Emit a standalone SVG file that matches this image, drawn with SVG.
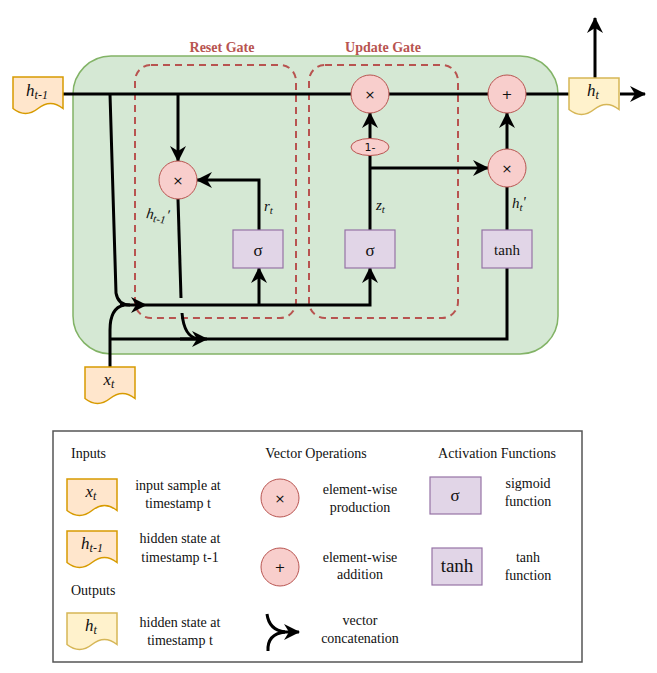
<svg xmlns="http://www.w3.org/2000/svg" width="657" height="673" viewBox="0 0 657 673" font-family="'Liberation Serif', 'DejaVu Serif', serif">
<style>
text{font-family:'Liberation Serif','DejaVu Serif',serif;fill:#111}
.ln{fill:none;stroke:#000;stroke-width:3}
.ar{marker-end:url(#arr)}
.op{fill:#f8cecc;stroke:#b85450;stroke-width:1}
.fn{fill:#e1d5e7;stroke:#9673a6;stroke-width:1.2}
.in{fill:#ffe6cc;stroke:#d79b00;stroke-width:1.5}
.out{fill:#fff2cc;stroke:#d6b656;stroke-width:1.5}
.gate{fill:none;stroke:#b85450;stroke-width:2;stroke-dasharray:7 5}
.gl{font-weight:bold;font-size:14px;fill:#b85450}
.sym{font-family:'DejaVu Sans',sans-serif;font-size:13px;text-anchor:middle}
.it{font-style:italic}
.lg{font-size:14px}
.c{text-anchor:middle}
</style>
<defs>
<marker id="arr" viewBox="0 0 16 16" refX="15" refY="8" markerWidth="16" markerHeight="16" markerUnits="userSpaceOnUse" orient="auto">
<path d="M0,0 L16,8 L0,16 L5,8 Z" fill="#000"/>
</marker>
<path id="doc" d="M0,0 H50 V31.5 Q37.5,21.5 25,31.5 Q12.5,41.5 0,31.5 Z"/>
</defs>

<g id="cell">
<rect x="73" y="56" width="485" height="298" rx="38" fill="#d5e8d4" stroke="#82b366" stroke-width="1.5"/>
</g>
<g id="reset-gate">
<rect class="gate" x="135" y="65" width="161" height="253" rx="16"/>
<text class="gl c" x="222" y="52">Reset Gate</text>
</g>
<g id="update-gate">
<rect class="gate" x="309" y="65" width="149" height="253" rx="16"/>
<text class="gl c" x="383" y="52">Update Gate</text>
</g>

<g id="connectors">
<path class="ln" d="M63,94 H569"/>
<path class="ln" d="M110,94 L116,293 Q118,305 130,305"/>
<path class="ln" d="M110,367 V330 Q110,308 124,305"/>
<path class="ln ar" d="M120,305 H146"/>
<path class="ln ar" d="M146,305 H370 V268"/>
<path class="ln ar" d="M259,305 V268"/>
<path class="ln" d="M110,339 H507 V268"/>
<path class="ln ar" d="M180,339 H207"/>
<path class="ln" d="M178,199 L181,298"/>
<path class="ln" d="M182,313 Q184,337 198,339"/>
<path class="ln ar" d="M178,94 V161"/>
<path class="ln ar" d="M259,230 V180 H197"/>
<path class="ln" d="M370,230 V155"/>
<path class="ln ar" d="M370,168 H488"/>
<path class="ln ar" d="M370,139 V113"/>
<path class="ln" d="M507,230 V187"/>
<path class="ln ar" d="M507,149 V113"/>
<path class="ln ar" d="M620,94 H645"/>
<path class="ln ar" d="M595,78 V18"/>
</g>

<g id="mul-reset">
<circle class="op" cx="178" cy="180" r="19"/>
<text class="sym" x="178" y="185">×</text>
</g>
<g id="mul-update">
<circle class="op" cx="370" cy="94" r="19"/>
<text class="sym" x="370" y="99">×</text>
</g>
<g id="add">
<circle class="op" cx="507" cy="94" r="19"/>
<text class="sym" x="507" y="99">+</text>
</g>
<g id="one-minus">
<ellipse class="op" cx="370" cy="147" rx="19" ry="8.5"/>
<text class="sym" x="370" y="151" style="font-size:11px">1-</text>
</g>
<g id="mul-out">
<circle class="op" cx="507" cy="168" r="19"/>
<text class="sym" x="507" y="173">×</text>
</g>
<g id="sigma-reset">
<rect class="fn" x="233" y="230" width="50" height="38"/>
<text class="c" x="258" y="256" font-size="17">σ</text>
</g>
<g id="sigma-update">
<rect class="fn" x="345" y="230" width="50" height="38"/>
<text class="c" x="370" y="256" font-size="17">σ</text>
</g>
<g id="tanh">
<rect class="fn" x="482" y="230" width="50" height="38"/>
<text class="c" x="507" y="255" font-size="15">tanh</text>
</g>

<g id="labels">
<text class="it" x="264" y="211" font-size="15">r<tspan font-size="11" dy="3">t</tspan></text>
<text class="it" x="376" y="210" font-size="15">z<tspan font-size="11" dy="3">t</tspan></text>
<text class="it" x="512" y="208" font-size="15">h<tspan font-size="11" dy="3">t</tspan><tspan dy="-4">'</tspan></text>
<text class="it" x="146" y="220" font-size="15" transform="rotate(8 160 218)">h<tspan font-size="11" dy="3">t-1</tspan><tspan dy="-4">'</tspan></text>
</g>

<g id="h-prev">
<use href="#doc" class="in" x="13" y="77"/>
<text class="it c" x="37" y="96" font-size="17">h<tspan font-size="12" dy="3">t-1</tspan></text>
</g>
<g id="x-t">
<use href="#doc" class="in" x="85" y="367"/>
<text class="it c" x="109" y="385" font-size="17">x<tspan font-size="12" dy="3">t</tspan></text>
</g>
<g id="h-t">
<use href="#doc" class="out" x="569" y="78"/>
<text class="it c" x="593" y="96" font-size="17">h<tspan font-size="12" dy="3">t</tspan></text>
</g>

<g id="legend">
<rect x="53" y="431" width="529" height="231" fill="#fff" stroke="#555" stroke-width="1.5"/>
<text class="lg" x="71" y="458">Inputs</text>
<text class="lg c" x="316" y="458">Vector Operations</text>
<text class="lg c" x="497" y="458">Activation Functions</text>
<text class="lg" x="71" y="595">Outputs</text>

<use href="#doc" class="in" x="67" y="479"/>
<text class="it c" x="91" y="497" font-size="17">x<tspan font-size="12" dy="3">t</tspan></text>
<text class="lg c" x="178" y="490">input sample at</text>
<text class="lg c" x="178" y="508">timestamp t</text>

<use href="#doc" class="in" x="67" y="531"/>
<text class="it c" x="92" y="549" font-size="17">h<tspan font-size="12" dy="3">t-1</tspan></text>
<text class="lg c" x="180" y="543">hidden state at</text>
<text class="lg c" x="180" y="562">timestamp t-1</text>

<use href="#doc" class="out" x="67" y="613"/>
<text class="it c" x="91" y="631" font-size="17">h<tspan font-size="12" dy="3">t</tspan></text>
<text class="lg c" x="180" y="627">hidden state at</text>
<text class="lg c" x="180" y="645">timestamp t</text>

<circle class="op" cx="280" cy="498" r="19"/>
<text class="sym" x="280" y="503">×</text>
<text class="lg c" x="360" y="494">element-wise</text>
<text class="lg c" x="360" y="512">production</text>

<circle class="op" cx="280" cy="567" r="19"/>
<text class="sym" x="280" y="572">+</text>
<text class="lg c" x="360" y="562">element-wise</text>
<text class="lg c" x="360" y="579">addition</text>

<path class="ln" d="M267,614 Q269,630 285,632"/>
<path class="ln" d="M268,651 Q267,634 285,632"/>
<path class="ln ar" d="M282,632 H299"/>
<text class="lg c" x="360" y="625">vector</text>
<text class="lg c" x="360" y="643">concatenation</text>

<rect class="fn" x="430" y="477" width="51" height="37"/>
<text class="c" x="455" y="501" font-size="17">σ</text>
<text class="lg c" x="528" y="488">sigmoid</text>
<text class="lg c" x="528" y="506">function</text>

<rect class="fn" x="432" y="548" width="50" height="37"/>
<text class="c" x="457" y="572" font-size="19">tanh</text>
<text class="lg c" x="528" y="562">tanh</text>
<text class="lg c" x="528" y="580">function</text>
</g>
</svg>
